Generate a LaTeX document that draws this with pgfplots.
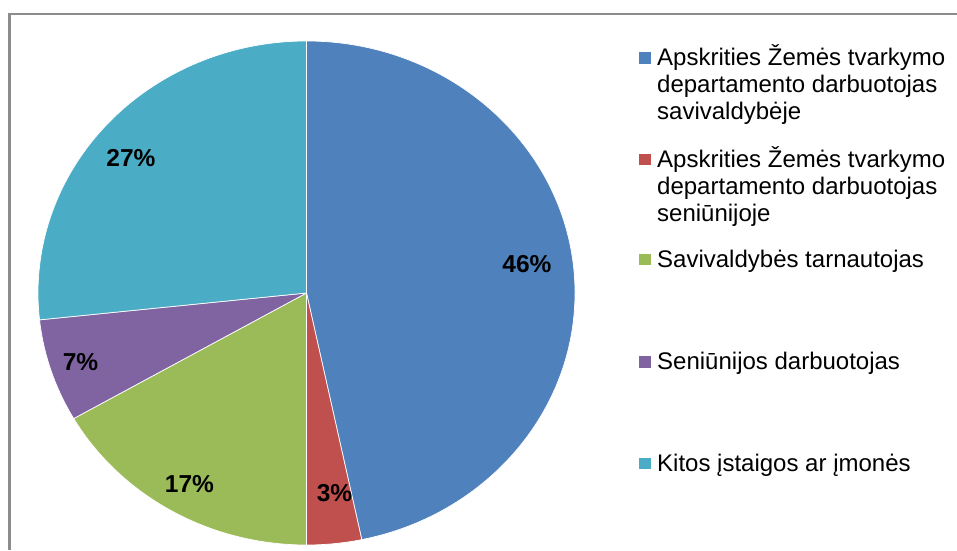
\documentclass[border=0pt]{standalone}
\usepackage{pgfplots}
\pgfplotsset{compat=1.18}
\usepackage{fontspec}
\setmainfont{Liberation Sans}
\definecolor{c1}{HTML}{4F81BD}
\definecolor{c2}{HTML}{C0504D}
\definecolor{c3}{HTML}{9BBB59}
\definecolor{c4}{HTML}{8064A2}
\definecolor{c5}{HTML}{4BACC6}
\definecolor{frame}{HTML}{8C8C8C}
% #1 cumulative share before the slice (%), #2 share (%), #3 colour
\newcommand{\pieslice}[3]{%
  \fill[#3, draw=white, line width=0.7pt, line join=round]
    (axis cs:306.5,257) -- ++({90-3.6*#1}:268.5pt and 252pt)
    arc[start angle={90-3.6*#1}, delta angle={-3.6*#2}, x radius=268.5pt, y radius=252pt]
    -- cycle;}
\newcommand{\legsq}[2]{% colour, baseline y (px from top)
  \fill[#1] (axis cs:639,{550-#2+2}) rectangle (axis cs:651,{550-#2+13.5});}
\newcommand{\legtxt}[2]{% baseline y (px from top), text
  \node[anchor=base west, inner sep=0pt, font=\fontsize{24}{27}\selectfont] at (axis cs:657,{550-#1}) {#2};}
\newcommand{\plabel}[3]{% x center, baseline y (px from top), text
  \node[anchor=base, inner sep=0pt, font=\bfseries\fontsize{24.5}{27}\selectfont] at (axis cs:#1,{550-#2}) {#3};}
\begin{document}
\begin{tikzpicture}
\begin{axis}[
  width=957pt, height=550pt, scale only axis,
  xmin=0, xmax=957, ymin=0, ymax=550,
  hide axis, clip=false,
]
% frame (left and top edges visible)
\draw[frame, line width=2.2pt] (axis cs:9.5,0) -- (axis cs:9.5,536.2) -- (axis cs:957,536.2);
% pie: shares in percent
\pieslice{0}{46.7}{c1}
\pieslice{46.7}{3.3}{c2}
\pieslice{50.0}{16.7}{c3}
\pieslice{66.7}{6.6}{c4}
\pieslice{73.3}{26.7}{c5}
% data labels
\plabel{527}{272}{46\%}
\plabel{334.5}{501.5}{3\%}
\plabel{189.5}{492}{17\%}
\plabel{80.5}{370}{7\%}
\plabel{131}{166.5}{27\%}
% legend
\legsq{c1}{66}
\legtxt{66}{Apskrities Žemės tvarkymo}
\legtxt{93}{departamento darbuotojas}
\legtxt{120}{savivaldybėje}
\legsq{c2}{167}
\legtxt{167}{Apskrities Žemės tvarkymo}
\legtxt{194}{departamento darbuotojas}
\legtxt{221}{seniūnijoje}
\legsq{c3}{267}
\legtxt{267}{Savivaldybės tarnautojas}
\legsq{c4}{369.5}
\legtxt{369.5}{Seniūnijos darbuotojas}
\legsq{c5}{471}
\legtxt{471}{Kitos įstaigos ar įmonės}
\path (rel axis cs:0,0) rectangle (rel axis cs:1,1);
\end{axis}
\pgfresetboundingbox
\path (current axis.south west) rectangle (current axis.north east);
\end{tikzpicture}
\end{document}
